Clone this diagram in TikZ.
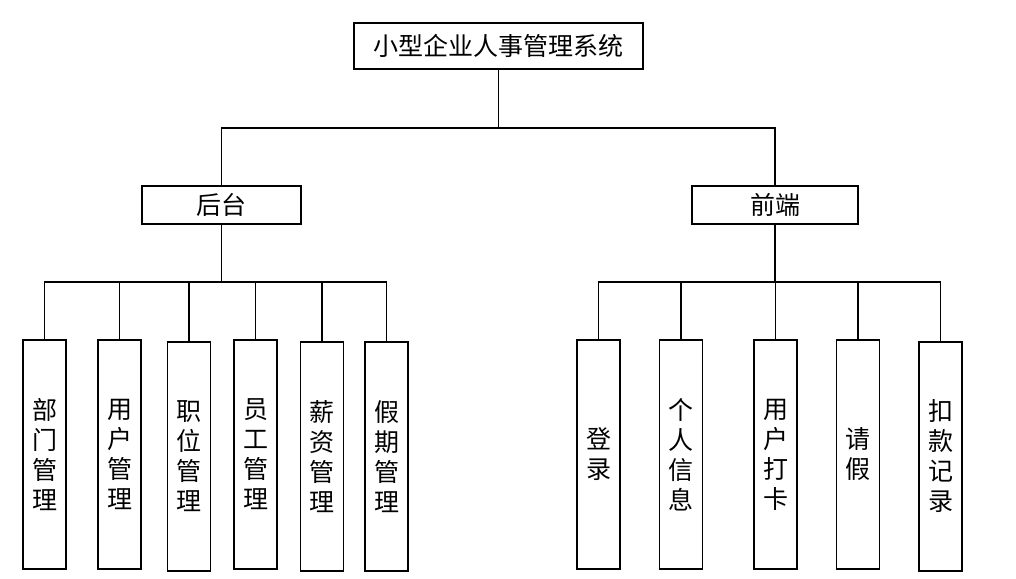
\documentclass[tikz,border=0pt]{standalone}
\usepackage{fontspec}
\setmainfont{Noto Sans CJK SC}
\begin{document}
\begin{tikzpicture}[x=0.75pt,y=-0.75pt,
  every node/.style={inner sep=0pt},
  box/.style={draw,line width=1.4pt,font=\fontsize{18.75}{22.5}\selectfont,align=center},
  vbox/.style={box,minimum width=32.25pt,minimum height=171.75pt},
  conn/.style={line width=1.4pt}]
\useasboundingbox (0,0) rectangle (1016,578);
% top
\node[box,minimum width=216.75pt,minimum height=34.5pt] (root) at (498.5,46) {小型企业人事管理系统};
\node[box,minimum width=119.25pt,minimum height=28.5pt] (back) at (221.5,205) {后台};
\node[box,minimum width=124.5pt,minimum height=28.5pt] (front) at (775,205) {前端};
% left children
\node[vbox] (b1) at (44.5,454.5) {部\\门\\管\\理};
\node[vbox] (b2) at (119.5,454.5) {用\\户\\管\\理};
\node[vbox] (b3) at (189,456.5) {职\\位\\管\\理};
\node[vbox] (b4) at (255.5,454.5) {员\\工\\管\\理};
\node[vbox] (b5) at (322,456.5) {薪\\资\\管\\理};
\node[vbox] (b6) at (386.5,456.5) {假\\期\\管\\理};
% right children
\node[vbox] (f1) at (598.5,454.5) {登\\录};
\node[vbox] (f2) at (681,454.5) {个\\人\\信\\息};
\node[vbox] (f3) at (775.5,454.5) {用\\户\\打\\卡};
\node[vbox] (f4) at (858,454.5) {请\\假};
\node[vbox] (f5) at (940.5,456.5) {扣\\款\\记\\录};
% connectors
\foreach \c in {back,front}
  \draw[conn] (root.south) -- ++(0,58) -| (\c.north);
\foreach \c in {b1,b2,b3,b4,b5,b6}
  \draw[conn] (back.south) -- ++(0,57) -| (\c.north);
\foreach \c in {f1,f2,f3,f4,f5}
  \draw[conn] (front.south) -- ++(0,57) -| (\c.north);
\end{tikzpicture}
\end{document}
